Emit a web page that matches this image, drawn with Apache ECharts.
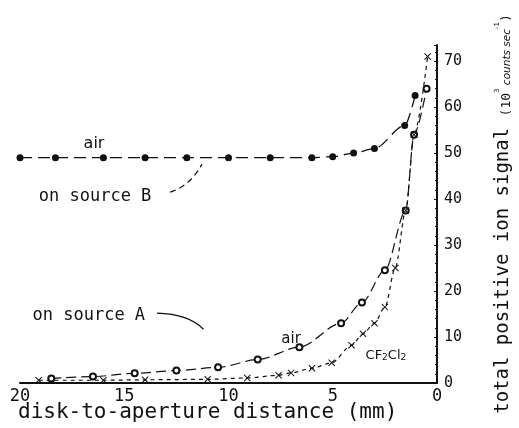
<!DOCTYPE html>
<html>
<head>
<meta charset="utf-8">
<script src="https://cdn.jsdelivr.net/npm/echarts@6/dist/echarts.min.js"></script>
<style>
  html, body { margin: 0; padding: 0; background: #fff; }
  #chart { width: 519px; height: 428px; }
</style>
</head>
<body>
<div id="chart"></div>
<script>
// air, on source B (filled dots)
var bDist = [20, 18.3, 16, 14, 12, 10, 8, 6, 5, 4, 3, 1.55, 1.05];
var bSignal = [49, 49, 49, 49, 49, 49, 49, 49, 49.2, 50, 51, 56, 62.5];

// air, on source A (open circles)
var aDist = [18.5, 16.5, 14.5, 12.5, 10.5, 8.6, 6.6, 4.6, 3.6, 2.5, 1.5, 1.1, 0.5];
var aSignal = [1.0, 1.4, 2.1, 2.7, 3.4, 5.1, 7.8, 13, 17.5, 24.5, 37.5, 54, 64];

// CF2Cl2, on source A (crosses)
var cDist = [19.1, 16, 14, 11, 9.1, 7.6, 7.0, 6.0, 5.05, 4.1, 3.55, 3.0, 2.5, 2.0, 1.5, 1.1, 0.45];
var cSignal = [0.6, 0.6, 0.7, 0.8, 1.1, 1.7, 2.2, 3.2, 4.4, 8.2, 10.7, 13, 16.5, 25, 37.5, 54, 71];

var MONO = '"DejaVu Sans Mono", monospace';
var SANS = '"DejaVu Sans", sans-serif';
var INK = '#111';
var CROSS = 'path://M0,1L1,0L5,4L9,0L10,1L6,5L10,9L9,10L5,6L1,10L0,9L4,5Z';

function pairs (xs, ys) {
  return xs.map(function (x, i) { return [x, ys[i]] })
}

var myChart = echarts.init(document.getElementById('chart'))

var option = {
  animation: false,
  backgroundColor: '#fff',
  grid: { left: 20, right: 82, top: 45, bottom: 45, containLabel: false, outerBoundsMode: 'none' },
  xAxis: {
    type: 'value',
    min: 0,
    max: 20,
    interval: 5,
    inverse: true,
    axisLine: { lineStyle: { color: INK, width: 2 } },
    axisTick: { show: false },
    splitLine: { show: false },
    axisLabel: { color: INK, fontFamily: MONO, fontSize: 17, margin: 5 }
  },
  yAxis: {
    type: 'value',
    position: 'right',
    min: 0,
    max: 73.5,
    interval: 10,
    axisLine: { show: true, lineStyle: { color: INK, width: 2 } },
    axisTick: { show: true, inside: true, length: 3, lineStyle: { color: INK } },
    minorTick: { show: true, splitNumber: 5, length: 2, lineStyle: { color: INK } },
    splitLine: { show: false },
    axisLabel: { color: INK, fontFamily: MONO, fontSize: 15, margin: 7, showMaxLabel: false },
    name: '{m|total positive ion signal }{p|(10}{s|3}{c| counts sec}{s|-1}{p|)}',
    nameLocation: 'middle',
    nameRotate: 90,
    nameGap: 57,
    nameTextStyle: {
      rich: {
        m: { fontFamily: MONO, fontSize: 19, color: INK, verticalAlign: 'bottom' },
        p: { fontFamily: MONO, fontSize: 13, color: INK, verticalAlign: 'bottom' },
        c: { fontFamily: SANS, fontSize: 10.5, fontStyle: 'italic', color: INK, verticalAlign: 'bottom' },
        s: { fontFamily: SANS, fontSize: 7, color: INK, verticalAlign: 'top' }
      }
    }
  },
  series: [
    {
      name: 'air B',
      type: 'line',
      data: pairs(bDist, bSignal),
      symbol: 'circle',
      symbolSize: 7,
      itemStyle: { color: INK },
      lineStyle: { color: INK, width: 1.3, type: [12, 6] },
      smooth: 0.3,
      smoothMonotone: 'x'
    },
    {
      name: 'air A',
      type: 'line',
      data: pairs(aDist, aSignal),
      symbol: 'emptyCircle',
      symbolSize: 6,
      itemStyle: { color: INK, borderColor: INK, borderWidth: 1.2 },
      lineStyle: { color: INK, width: 1.2, type: [10, 5] },
      smooth: 0.3,
      smoothMonotone: 'x'
    },
    {
      name: 'CF2Cl2',
      type: 'line',
      data: pairs(cDist, cSignal),
      symbol: CROSS,
      symbolSize: 7,
      itemStyle: { color: INK },
      lineStyle: { color: INK, width: 1.2, type: [4, 4] },
      smooth: 0.3,
      smoothMonotone: 'x'
    }
  ]
}

myChart.setOption(option)

// annotations, anchored in data coordinates
function px (pt) { return myChart.convertToPixel({ gridIndex: 0 }, pt) }

var airB = px([16.45, 52])
var srcB = px([19.1, 40.5])
var legB = [px([12.8, 41.5]), px([11.85, 42.8]), px([11.27, 47.6])]
var srcA = px([19.4, 14.7])
var legA = [px([13.43, 15.2]), px([11.9, 15]), px([11.2, 11.7])]
var airA = px([7.0, 9.6])
var cfc = px([2.45, 5.9])
var xName = px([11.0, 0])

myChart.setOption({
  graphic: [
    { type: 'text', x: xName[0], y: xName[1] + 30, style: { text: 'disk-to-aperture distance (mm)', font: '21px ' + MONO, fill: INK, align: 'center', verticalAlign: 'middle' } },
    { type: 'text', x: airB[0], y: airB[1], style: { text: 'air', font: '16px ' + SANS, fill: INK, align: 'center', verticalAlign: 'middle' } },
    { type: 'text', x: srcB[0], y: srcB[1], style: { text: 'on source B', font: '17px ' + MONO, fill: INK, align: 'left', verticalAlign: 'middle' } },
    {
      type: 'bezierCurve',
      shape: { x1: legB[0][0], y1: legB[0][1], cpx1: legB[1][0], cpy1: legB[1][1], x2: legB[2][0], y2: legB[2][1] },
      style: { stroke: INK, lineWidth: 1.2, lineDash: [6, 4], fill: null }
    },
    { type: 'text', x: srcA[0], y: srcA[1], style: { text: 'on source A', font: '17px ' + MONO, fill: INK, align: 'left', verticalAlign: 'middle' } },
    {
      type: 'bezierCurve',
      shape: { x1: legA[0][0], y1: legA[0][1], cpx1: legA[1][0], cpy1: legA[1][1], x2: legA[2][0], y2: legA[2][1] },
      style: { stroke: INK, lineWidth: 1.3, fill: null }
    },
    { type: 'text', x: airA[0], y: airA[1], style: { text: 'air', font: '15px ' + SANS, fill: INK, align: 'center', verticalAlign: 'middle' } },
    {
      type: 'text', x: cfc[0], y: cfc[1],
      style: {
        text: '{a|CF}{b|2}{a|Cl}{b|2}',
        fill: INK, align: 'center', verticalAlign: 'middle',
        rich: {
          a: { fontFamily: SANS, fontSize: 13, fill: INK, verticalAlign: 'top' },
          b: { fontFamily: SANS, fontSize: 9, fill: INK, verticalAlign: 'bottom' }
        }
      }
    }
  ]
})
</script>
</body>
</html>
